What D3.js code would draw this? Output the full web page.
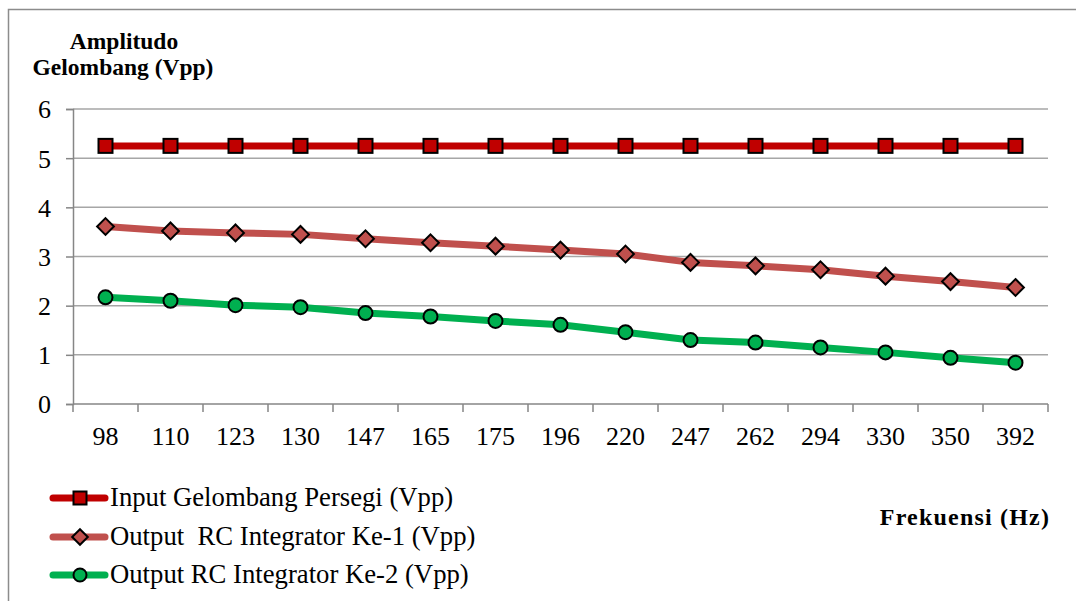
<!DOCTYPE html>
<html><head><meta charset="utf-8">
<script src="https://cdn.jsdelivr.net/npm/d3@7"></script>
<style>body{margin:0;background:#fff}svg{display:block}</style>
</head><body>
<svg id="c" width="1076" height="601"></svg>
<script>
const categories = ["98","110","123","130","147","165","175","196","220","247","262","294","330","350","392"];
const inputVpp = [5.25,5.25,5.25,5.25,5.25,5.25,5.25,5.25,5.25,5.25,5.25,5.25,5.25,5.25,5.25];
const out1Vpp = [3.61,3.52,3.48,3.45,3.36,3.28,3.21,3.13,3.05,2.88,2.81,2.73,2.60,2.49,2.37];
const out2Vpp = [2.17,2.10,2.01,1.97,1.85,1.78,1.69,1.61,1.46,1.30,1.25,1.15,1.05,0.94,0.84];
const yTicks = [0,1,2,3,4,5,6];
const seriesNames = ["Input Gelombang Persegi (Vpp)","Output  RC Integrator Ke-1 (Vpp)","Output RC Integrator Ke-2 (Vpp)"];

const series = [
  {name: seriesNames[0], values: inputVpp, color: "#C00000", marker: "square"},
  {name: seriesNames[1], values: out1Vpp, color: "#C0504D", marker: "diamond"},
  {name: seriesNames[2], values: out2Vpp, color: "#00B050", marker: "circle"}
];

const svg = d3.select("#c");
const font = "'Liberation Serif','Times New Roman',serif";
const L = 73, R = 1048, T = 109, B = 404;

// outer frame
svg.append("path").attr("d", `M8.5,601 L8.5,9.5 L1076,9.5`).attr("fill","none").attr("stroke","#8c8c8c").attr("stroke-width",1.5);

const x = d3.scaleBand().domain(categories).range([L, R]);
const y = d3.scaleLinear().domain([0,6]).range([B, T]);

// gridlines
svg.append("g").selectAll("line").data(yTicks.filter(d=>d>0)).join("line")
  .attr("x1", L).attr("x2", R).attr("y1", d=>y(d)).attr("y2", d=>y(d))
  .attr("stroke","#a6a6a6").attr("stroke-width",1.5);

// y axis
const yAxis = svg.append("g").attr("transform",`translate(${L},0)`)
  .call(d3.axisLeft(y).tickValues(yTicks).tickSize(7).tickPadding(15).tickFormat(d3.format("d")));
yAxis.attr("font-family", null);
yAxis.select(".domain").attr("stroke","#868686").attr("stroke-width",1.5);
yAxis.selectAll(".tick line").attr("stroke","#868686").attr("stroke-width",1.5);
yAxis.selectAll("text").style("font-family",font).attr("font-size",26).attr("fill","#000").attr("dy","0.34em");

// x axis
const xTickPos = categories.map(c=>x(c)).concat([R]);
const xg = svg.append("g");
xg.append("line").attr("x1",L).attr("x2",R).attr("y1",B).attr("y2",B).attr("stroke","#868686").attr("stroke-width",1.5);
xg.selectAll(".xt").data(xTickPos).join("line").attr("class","xt")
  .attr("x1",d=>d).attr("x2",d=>d).attr("y1",B).attr("y2",B+8).attr("stroke","#868686").attr("stroke-width",1.5);
xg.selectAll("text").data(categories).join("text")
  .attr("x", d=>x(d)+x.bandwidth()/2).attr("y", B+41).attr("text-anchor","middle")
  .style("font-family",font).attr("font-size",26).attr("fill","#000").text(d=>d);

// marker drawing
function drawMarker(g, type, color, cx, cy, s){
  if(type==="square"){
    g.append("rect").attr("x",cx-s/2).attr("y",cy-s/2).attr("width",s).attr("height",s)
      .attr("fill",color).attr("stroke","#000").attr("stroke-width",2);
  } else if(type==="diamond"){
    const h = s*0.6;
    g.append("path").attr("d",`M${cx},${cy-h}L${cx+h},${cy}L${cx},${cy+h}L${cx-h},${cy}Z`)
      .attr("fill",color).attr("stroke","#000").attr("stroke-width",2);
  } else {
    g.append("circle").attr("cx",cx).attr("cy",cy).attr("r",s/2)
      .attr("fill",color).attr("stroke","#000").attr("stroke-width",2);
  }
}

const line = d3.line().x((d,i)=>x(categories[i])+x.bandwidth()/2).y(d=>y(d));
series.forEach(s=>{
  svg.append("path").datum(s.values).attr("d",line).attr("fill","none")
    .attr("stroke",s.color).attr("stroke-width",7).attr("stroke-linejoin","round");
});
series.forEach(s=>{
  const g = svg.append("g");
  s.values.forEach((v,i)=>drawMarker(g, s.marker, s.color, x(categories[i])+x.bandwidth()/2, y(v), 14));
});

// axis titles
svg.append("text").attr("x",124).attr("y",49).attr("text-anchor","middle").style("font-family",font)
  .attr("font-weight","bold").attr("font-size",23.5).text("Amplitudo");
svg.append("text").attr("x",123).attr("y",75).attr("text-anchor","middle").style("font-family",font)
  .attr("font-weight","bold").attr("font-size",23.5).text("Gelombang (Vpp)");
svg.append("text").attr("x",965).attr("y",525).attr("text-anchor","middle").style("font-family",font)
  .attr("font-weight","bold").attr("font-size",24).attr("letter-spacing",1.2).text("Frekuensi (Hz)");

// legend
const legY = [498, 537, 575];
series.forEach((s,i)=>{
  const g = svg.append("g");
  g.append("line").attr("x1",53).attr("x2",105).attr("y1",legY[i]).attr("y2",legY[i])
    .attr("stroke",s.color).attr("stroke-width",7).attr("stroke-linecap","round");
  drawMarker(g, s.marker, s.color, 80, legY[i], 13);
  g.append("text").attr("x",110).attr("y",legY[i]+8).style("font-family",font).attr("font-size",26.7)
    .attr("fill","#000").style("white-space","pre").text(s.name);
});
</script>
</body></html>
